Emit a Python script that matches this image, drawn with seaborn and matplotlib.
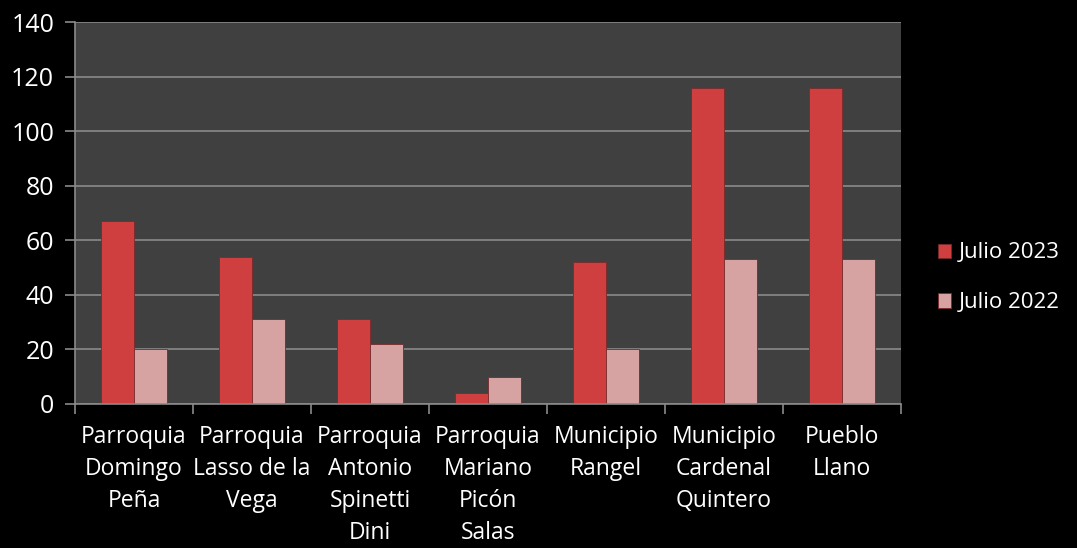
import pandas as pd
import matplotlib
matplotlib.use("Agg")
import matplotlib.pyplot as plt
from matplotlib.ticker import FixedLocator, MultipleLocator
import seaborn as sns

# Chart data
categories = [
    "Parroquia\nDomingo\nPeña",
    "Parroquia\nLasso de la\nVega",
    "Parroquia\nAntonio\nSpinetti\nDini",
    "Parroquia\nMariano\nPicón\nSalas",
    "Municipio\nRangel",
    "Municipio\nCardenal\nQuintero",
    "Pueblo\nLlano",
]
series_names = ["Julio 2023", "Julio 2022"]
julio_2023 = [67, 54, 31, 4, 52, 116, 116]
julio_2022 = [20, 31, 22, 10, 20, 53, 53]

df = pd.DataFrame({
    "zona": categories * 2,
    "serie": [series_names[0]] * len(categories) + [series_names[1]] * len(categories),
    "valor": julio_2023 + julio_2022,
})

sns.set_theme(style="dark")
plt.rcParams["font.family"] = ["Open Sans", "DejaVu Sans"]

fig = plt.figure(figsize=(10.77, 5.48), dpi=100, facecolor="black")
ax = fig.add_axes([0.0696, 0.2628, 0.767, 0.697])
ax.set_facecolor("#404040")

palette = {"Julio 2023": "#cf3f3f", "Julio 2022": "#d7a2a2"}
sns.barplot(data=df, x="zona", y="valor", hue="serie", palette=palette,
            width=0.56, gap=0, saturation=1, edgecolor="#7a2a2a", linewidth=0.6,
            ax=ax, legend=True)

ax.set_ylim(0, 140)
ax.set_xlim(-0.5, len(categories) - 0.5)
ax.yaxis.set_major_locator(MultipleLocator(20))
ax.grid(axis="y", color="#8a8a8a", linewidth=1.2)
ax.grid(axis="x", visible=False)
ax.set_axisbelow(True)
ax.set_xlabel("")
ax.set_ylabel("")

# category labels on minor ticks, dividers as major ticks
ax.xaxis.set_major_locator(FixedLocator([i - 0.5 for i in range(len(categories) + 1)]))
ax.xaxis.set_minor_locator(FixedLocator(list(range(len(categories)))))
ax.set_xticklabels([], minor=False)
ax.set_xticklabels(categories, minor=True, fontsize=16.5, color="white", linespacing=1.45)
ax.tick_params(axis="x", which="major", length=7, width=1.2, color="#8a8a8a", direction="out", bottom=True)
ax.tick_params(axis="x", which="minor", length=0, pad=15)
ax.tick_params(axis="y", length=7, width=1.2, color="#8a8a8a", direction="out", left=True,
               labelsize=18, labelcolor="white", pad=8)

for side in ["top", "right"]:
    ax.spines[side].set_visible(False)
for side in ["left", "bottom"]:
    ax.spines[side].set_color("#8a8a8a")
    ax.spines[side].set_linewidth(1.2)

leg = ax.legend(loc="center left", bbox_to_anchor=(1.02, 0.33), frameon=False,
                fontsize=16, labelcolor="white", handlelength=0.6, handleheight=0.6,
                handletextpad=0.35, labelspacing=1.3)

fig.savefig("out.png", dpi=100, facecolor="black")
